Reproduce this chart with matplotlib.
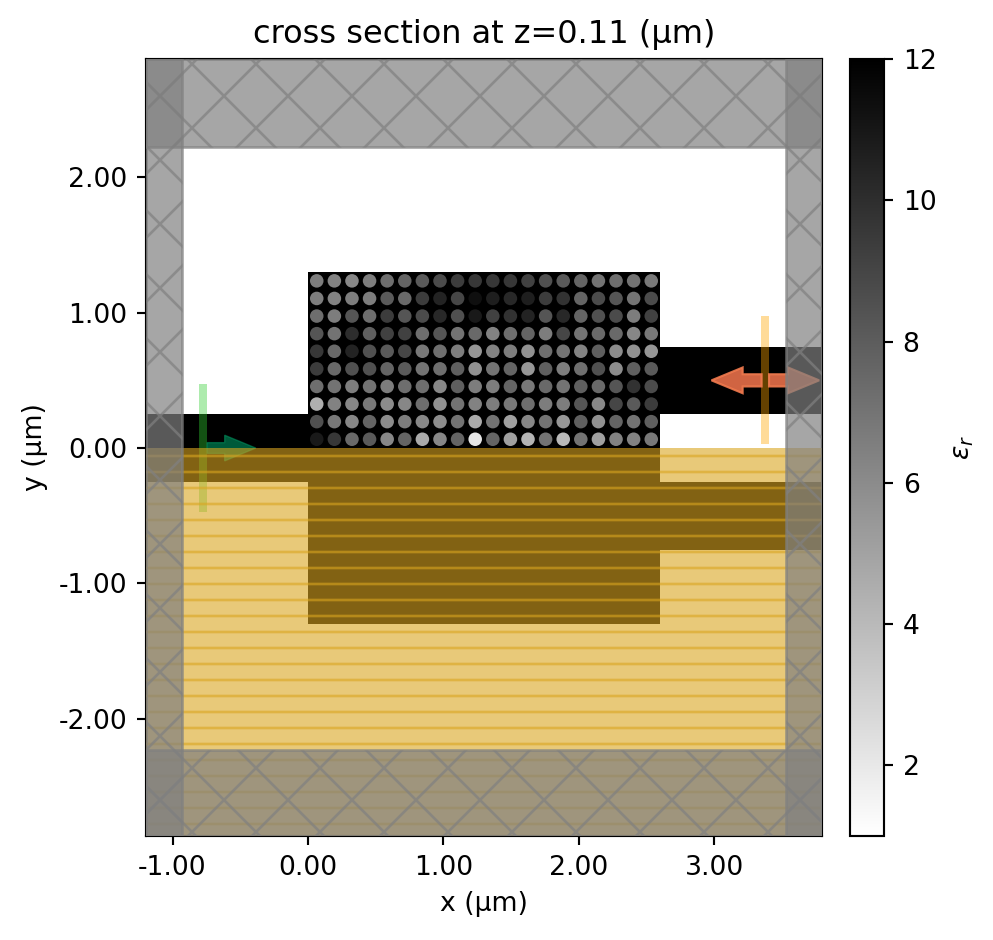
import numpy as np
import matplotlib
matplotlib.use('Agg')
import matplotlib.pyplot as plt
from matplotlib.patches import Rectangle, Circle, FancyArrow
from matplotlib.ticker import FormatStrFormatter
from matplotlib.cm import ScalarMappable
from matplotlib.colors import Normalize

# relative permittivity of the holes, top row first
hole_grey = [
    [125, 130, 135, 125, 110, 100, 90, 75, 60, 55, 55, 55, 65, 80, 90, 100, 115, 110, 115, 120],
    [125, 130, 125, 125, 90, 105, 60, 35, 70, 15, 30, 40, 30, 60, 50, 100, 75, 85, 115, 75],
    [110, 125, 85, 110, 60, 85, 75, 40, 80, 25, 65, 50, 35, 85, 40, 100, 80, 75, 125, 65],
    [85, 115, 45, 95, 65, 65, 110, 85, 115, 105, 130, 110, 100, 125, 70, 115, 105, 105, 135, 120],
    [55, 105, 35, 80, 90, 70, 120, 110, 125, 150, 130, 125, 145, 110, 115, 130, 95, 140, 145, 150],
    [60, 105, 80, 80, 100, 90, 115, 110, 95, 145, 115, 100, 150, 95, 125, 110, 80, 140, 95, 90],
    [110, 115, 125, 115, 125, 110, 110, 135, 95, 125, 125, 100, 120, 105, 115, 95, 105, 85, 50, 75],
    [175, 130, 135, 120, 140, 135, 110, 145, 115, 130, 125, 120, 110, 125, 125, 85, 135, 70, 90, 60],
    [80, 120, 135, 100, 140, 125, 135, 140, 115, 170, 115, 160, 135, 115, 150, 95, 145, 100, 115, 95],
    [25, 55, 105, 90, 135, 100, 170, 135, 100, 230, 100, 160, 180, 115, 185, 115, 160, 130, 130, 120],
]
eps_min, eps_max = 1.0, 12.0
pitch = 0.13
radius = 0.05
xticks = [-1, 0, 1, 2, 3]
yticks = [-2, -1, 0, 1, 2]
cticks = [2, 4, 6, 8, 10, 12]

W, H, dpi = 993, 940, 192
fig = plt.figure(figsize=(W / dpi, H / dpi), dpi=dpi)
ax = fig.add_axes([146 / W, 1 - 836 / H, (822 - 146) / W, (836 - 59) / H])
cax = fig.add_axes([850 / W, 1 - 836 / H, (884 - 850) / W, (836 - 59) / H])

xmin, xmax = -1.196, 3.796
ymin, ymax = -2.866, 2.874
sim_x = (-0.93, 3.53)
sim_y = (-2.233, 2.222)
ax.set_xlim(xmin, xmax)
ax.set_ylim(ymin, ymax)

cmap = plt.get_cmap('gist_yarg')
norm = Normalize(eps_min, eps_max)
black = cmap(norm(12.0))

# waveguides and design region
ax.add_patch(Rectangle((xmin, -0.25), -xmin, 0.5, fc=black, lw=0, zorder=1))
ax.add_patch(Rectangle((0, -1.3), 2.6, 2.6, fc=black, lw=0, zorder=1))
ax.add_patch(Rectangle((2.6, 0.25), xmax - 2.6, 0.5, fc=black, lw=0, zorder=1))
ax.add_patch(Rectangle((2.6, -0.75), xmax - 2.6, 0.5, fc=black, lw=0, zorder=1))

# holes
for i, row in enumerate(hole_grey):
    for j, g in enumerate(row):
        x = 0.065 + j * pitch
        y = 1.235 - i * pitch
        ax.add_patch(Circle((x, y), radius, fc=str(g / 255), lw=0, zorder=2))

# source and monitor
ax.plot([-0.775, -0.775], [-0.473, 0.473], color='limegreen', alpha=0.4, lw=3,
        solid_capstyle='butt', zorder=3)
ax.plot([3.375, 3.375], [0.03, 0.975], color='orange', alpha=0.4, lw=3,
        solid_capstyle='butt', zorder=3)

# direction arrows
ax.add_patch(FancyArrow(-0.745, 0.0, 0.36, 0, width=0.08, head_width=0.19, head_length=0.23,
                        length_includes_head=True, fc='#00b474', ec='#00a068', alpha=0.5, lw=0.5, zorder=3))
for x0, dx in [(3.35, -0.37), (3.405, 0.37)]:
    ax.add_patch(FancyArrow(x0, 0.5, dx, 0, width=0.09, head_width=0.19, head_length=0.23,
                            length_includes_head=True, fc='#e8704a', ec='#f07a4e', alpha=0.9,
                            lw=0.8, zorder=3))

# symmetry overlay
ax.add_patch(Rectangle((xmin, ymin), xmax - xmin, -ymin, fc='goldenrod', ec='goldenrod',
                       alpha=0.6, hatch='--', lw=0, zorder=4))

# PML
pml = dict(fc='gray', ec='gray', alpha=0.7, hatch='x', lw=1, zorder=5)
ax.add_patch(Rectangle((xmin, ymin), sim_x[0] - xmin, ymax - ymin, **pml))
ax.add_patch(Rectangle((sim_x[1], ymin), xmax - sim_x[1], ymax - ymin, **pml))
ax.add_patch(Rectangle((xmin, ymin), xmax - xmin, sim_y[0] - ymin, **pml))
ax.add_patch(Rectangle((xmin, sim_y[1]), xmax - xmin, ymax - sim_y[1], **pml))

ax.set_xticks(xticks)
ax.set_yticks(yticks)
ax.xaxis.set_major_formatter(FormatStrFormatter('%.2f'))
ax.yaxis.set_major_formatter(FormatStrFormatter('%.2f'))
ax.set_xlabel('x (µm)')
ax.set_ylabel('y (µm)')
ax.set_title('cross section at z=0.11 (µm)')

cb = fig.colorbar(ScalarMappable(norm=norm, cmap=cmap), cax=cax)
cb.set_ticks(cticks)
cb.set_label(r'$\epsilon_r$', labelpad=5)

fig.savefig('out.png', dpi=dpi)
